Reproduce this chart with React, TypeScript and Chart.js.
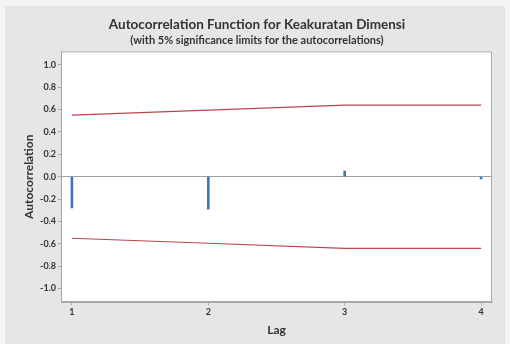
import React, { useEffect, useRef } from "react";
import { Chart, registerables } from "chart.js";

Chart.register(...registerables);

const lags = [1, 2, 3, 4];
const acfValues = [-0.28, -0.29, 0.05, -0.02];
const upperLimit = [0.55, 0.595, 0.64, 0.64];
const lowerLimit = [-0.55, -0.595, -0.64, -0.64];
const yTickValues = [-1.0, -0.8, -0.6, -0.4, -0.2, 0.0, 0.2, 0.4, 0.6, 0.8, 1.0];
const xTickValues = [1, 2, 3, 4];
const titleText = "Autocorrelation Function for Keakuratan Dimensi";
const subtitleText = "(with 5% significance limits for the autocorrelations)";

const FONT = "Lato, 'Noto Sans', sans-serif";

const bgPlugin = {
  id: "bgPlugin",
  beforeDraw(chart: any) {
    const { ctx, width, height, chartArea } = chart;
    ctx.save();
    ctx.fillStyle = "#f4f4f4";
    ctx.fillRect(0, 0, width, height);
    ctx.fillStyle = "#e6e6e6";
    ctx.fillRect(5, 6, width - 10, height - 6);
    ctx.fillStyle = "#ffffff";
    ctx.fillRect(chartArea.left, chartArea.top, chartArea.right - chartArea.left, chartArea.bottom - chartArea.top);
    ctx.restore();
  },
  afterDraw(chart: any) {
    const { ctx, chartArea } = chart;
    ctx.save();
    ctx.strokeStyle = "#a8a8a8";
    ctx.lineWidth = 1;
    ctx.strokeRect(chartArea.left + 0.5, chartArea.top + 0.5, chartArea.right - chartArea.left - 1, chartArea.bottom - chartArea.top - 1);
    ctx.restore();
  },
};

export default function App() {
  const ref = useRef<HTMLCanvasElement>(null);
  useEffect(() => {
    if (!ref.current) return;
    const chart = new Chart(ref.current, {
      type: "bar",
      data: {
        datasets: [
          {
            type: "bar",
            label: "ACF",
            data: lags.map((l, i) => ({ x: l, y: acfValues[i] })),
            backgroundColor: "#3f78b8",
            barThickness: 2,
            order: 1,
          } as any,
          {
            type: "line",
            label: "Upper",
            data: lags.map((l, i) => ({ x: l, y: upperLimit[i] })),
            borderColor: "#b8454f",
            borderWidth: 1.2,
            pointRadius: 0,
            fill: false,
            order: 2,
          },
          {
            type: "line",
            label: "Lower",
            data: lags.map((l, i) => ({ x: l, y: lowerLimit[i] })),
            borderColor: "#b8454f",
            borderWidth: 1.2,
            pointRadius: 0,
            fill: false,
            order: 2,
          },
        ],
      },
      options: {
        animation: false,
        responsive: false,
        maintainAspectRatio: false,
        layout: { padding: { top: 0, left: 22, right: 18, bottom: 7 } },
        plugins: {
          legend: { display: false },
          tooltip: { enabled: false },
          title: {
            display: true,
            text: titleText,
            color: "#333333",
            font: { family: FONT, size: 13.5, weight: "bold" },
            padding: { top: 17, bottom: 0 },
          },
          subtitle: {
            display: true,
            text: subtitleText,
            color: "#333333",
            font: { family: FONT, size: 11, weight: "bold" },
            padding: { top: 1, bottom: 4 },
          },
        },
        scales: {
          x: {
            type: "linear",
            min: 0.92,
            max: 4.08,
            offset: false,
            afterBuildTicks: (scale: any) => {
              scale.ticks = xTickValues.map((v) => ({ value: v }));
            },
            afterFit: (scale: any) => {
              scale.height = 35;
            },
            ticks: {
              color: "#333333",
              font: { family: FONT, size: 9, weight: "bold" },
              padding: 2,
              callback: (v: any) => String(v),
            },
            grid: { offset: false, drawOnChartArea: false, tickLength: 3, tickColor: "#a8a8a8" },
            border: { color: "#a8a8a8" },
            title: {
              display: true,
              text: "Lag",
              color: "#333333",
              font: { family: FONT, size: 12, weight: "bold" },
              padding: { top: 4, bottom: 0 },
            },
          },
          y: {
            type: "linear",
            min: -1.12,
            max: 1.12,
            afterBuildTicks: (scale: any) => {
              scale.ticks = yTickValues.map((v) => ({ value: v }));
            },
            afterFit: (scale: any) => {
              scale.width = 39;
            },
            ticks: {
              color: "#333333",
              font: { family: FONT, size: 9, weight: "bold" },
              padding: 2,
              callback: (v: any) => Number(v).toFixed(1),
            },
            grid: {
              drawOnChartArea: true,
              tickLength: 3,
              tickColor: "#a8a8a8",
              color: (c: any) => (c.tick && Math.abs(c.tick.value) < 1e-9 ? "#a0a0a0" : "rgba(0,0,0,0)"),
              lineWidth: 1,
            },
            border: { color: "#a8a8a8" },
            title: {
              display: true,
              text: "Autocorrelation",
              color: "#333333",
              font: { family: FONT, size: 12, weight: "bold" },
              padding: { top: 0, bottom: 4 },
            },
          },
        },
      } as any,
      plugins: [bgPlugin],
    });
    return () => chart.destroy();
  }, []);
  return (
    <div style={{ position: "fixed", left: 0, top: 0, width: 510, height: 344 }}>
      <canvas ref={ref} width={510} height={344} style={{ width: 510, height: 344, display: "block" }} />
    </div>
  );
}
